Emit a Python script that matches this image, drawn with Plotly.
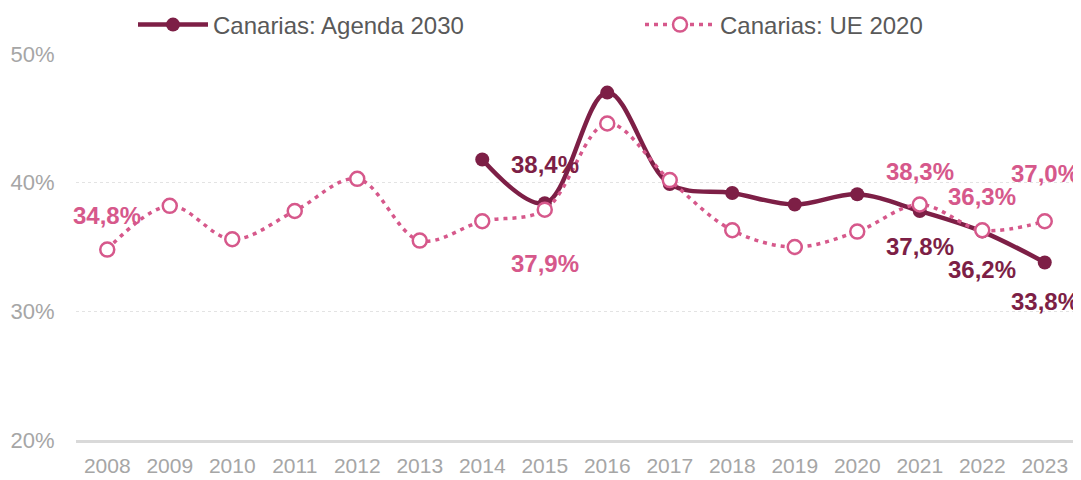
import plotly.graph_objects as go

years = [str(y) for y in range(2008, 2024)]

agenda_2030 = [None, None, None, None, None, None,
               41.8, 38.4, 47.0, 39.9, 39.2, 38.3, 39.1, 37.8, 36.2, 33.8]
ue_2020 = [34.8, 38.2, 35.6, 37.8, 40.3, 35.5,
           37.0, 37.9, 44.6, 40.2, 36.3, 35.0, 36.2, 38.3, 36.3, 37.0]

# which points get a value label, and the pixel shift of the label (+ above, - below)
agenda_labels = {"2015": 39, "2021": -36, "2022": -38, "2023": -39}
ue_labels = {"2008": 34, "2015": -54, "2021": 33, "2022": 34, "2023": 48}

maroon = "#7D1F46"
pink = "#D6588B"
font = "Liberation Sans"


def fmt(v):
    return f"{v:.1f}".replace(".", ",") + "%"


fig = go.Figure()

fig.add_trace(go.Scatter(
    x=years, y=agenda_2030, name="Canarias: Agenda 2030", legend="legend",
    mode="lines+markers", line=dict(color=maroon, width=4.5, shape="spline", smoothing=1),
    marker=dict(color=maroon, size=14), connectgaps=False))

fig.add_trace(go.Scatter(
    x=years, y=ue_2020, name="Canarias: UE 2020", legend="legend2",
    mode="lines+markers", line=dict(color=pink, width=3.5, dash="4px,5px", shape="spline", smoothing=1),
    marker=dict(color="white", size=14, line=dict(color=pink, width=2.5))))

annotations = []
for series, labels, color in [(agenda_2030, agenda_labels, maroon), (ue_2020, ue_labels, pink)]:
    for yr, shift in labels.items():
        i = years.index(yr)
        annotations.append(dict(
            x=i, y=series[i], text=fmt(series[i]), showarrow=False, yshift=shift,
            font=dict(family=font, size=24, color=color, weight="bold")))

legend_style = dict(orientation="h", yanchor="middle", xanchor="left",
                    yref="container", y=0.964, itemwidth=70,
                    font=dict(size=24, color="#595959"), bgcolor="rgba(0,0,0,0)")

# the page adds an 8px body margin, so the figure is 8px smaller and shifted margins
fig.update_layout(
    width=1073, height=472,
    margin=dict(l=68, r=5, t=46, b=40, autoexpand=False),
    plot_bgcolor="white", paper_bgcolor="white",
    font=dict(family=font),
    showlegend=True,
    legend=dict(legend_style, x=0.057),
    legend2=dict(legend_style, x=0.564),
    annotations=annotations,
    xaxis=dict(type="category", range=[-0.5, 15.5], showgrid=False, automargin=False,
               showline=True, linecolor="#D9D9D9", linewidth=3,
               ticks="outside", ticklen=5, tickcolor="rgba(0,0,0,0)",
               tickfont=dict(size=21, color="#A6A6A6")),
    yaxis=dict(range=[20, 50], dtick=10, ticksuffix="%", automargin=False,
               showgrid=True, gridcolor="#E3E3E3", griddash="dot", gridwidth=1,
               zeroline=False, ticks="outside", ticklen=16, tickcolor="rgba(0,0,0,0)",
               tickfont=dict(size=22, color="#A6A6A6")),
)

fig.write_html("out.html")
